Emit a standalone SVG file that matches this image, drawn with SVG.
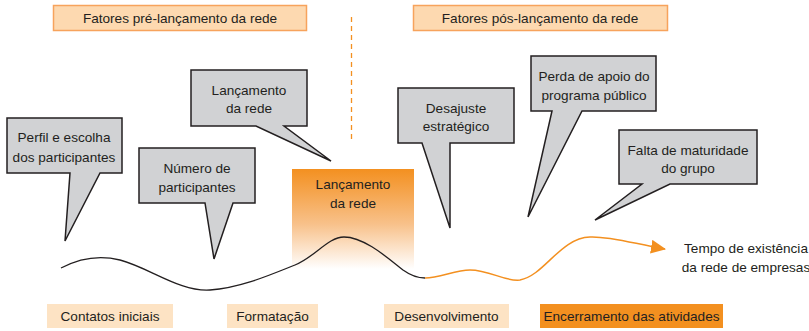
<svg xmlns="http://www.w3.org/2000/svg" width="809" height="331" viewBox="0 0 809 331">
<defs>
<linearGradient id="fade" x1="0" y1="0" x2="0" y2="1">
<stop offset="0" stop-color="#f39020"/>
<stop offset="0.55" stop-color="#f8c18a"/>
<stop offset="1" stop-color="#ffffff"/>
</linearGradient>
<marker id="arr" markerWidth="16" markerHeight="14" refX="14" refY="7" orient="auto" markerUnits="userSpaceOnUse">
<path d="M0,0 L15,7 L0,14 Z" fill="#f39020"/>
</marker>
<style>
text{font-family:"Liberation Sans",Arial,sans-serif;font-size:13.6px;fill:#231f20;text-anchor:middle}
.hdr{fill:#fdd9b0;stroke:#f7a35c;stroke-width:1.5}
.callout{fill:#d1d2d4;stroke:#231f20;stroke-width:1.5;stroke-linejoin:miter}
.phase{fill:#fde3c4}
.phase-end{fill:#f39020}
</style>
</defs>
<rect width="809" height="331" fill="#ffffff"/>

<g id="hdr-pre">
<rect class="hdr" x="53.5" y="5.5" width="253" height="25"/>
<text x="180" y="23">Fatores pré-lançamento da rede</text>
</g>
<g id="hdr-pos">
<rect class="hdr" x="413.5" y="5.5" width="254" height="25"/>
<text x="540" y="23">Fatores pós-lançamento da rede</text>
</g>

<g id="launch-highlight">
<rect x="292" y="169" width="122" height="100" fill="url(#fade)"/>
<text x="353" y="189">Lançamento</text>
<text x="353" y="208">da rede</text>
</g>

<g id="connectors">
<line x1="351.5" y1="17" x2="351.5" y2="143" stroke="#f39020" stroke-width="1.3" stroke-dasharray="5,4"/>
<path d="M61,268 C80,258 100,255 120,260 C150,268 180,292 210,290 C240,288 270,275 295,265 C315,257 328,237 344,237 C365,237 390,260 403,270 C410,275 418,278 425,278" fill="none" stroke="#231f20" stroke-width="1.3"/>
<path d="M425,278 C440,278 455,270 470,270 C490,270 505,282 520,280 C545,275 560,238 590,237 C610,236 635,244 665,249" fill="none" stroke="#f39020" stroke-width="1.5" marker-end="url(#arr)"/>
</g>

<g id="c-perfil">
<path class="callout" d="M7,118 H122 V173 H100 L65,241 L70,173 H7 Z"/>
<text x="64" y="142">Perfil e escolha</text>
<text x="64" y="162">dos participantes</text>
</g>
<g id="c-numero">
<path class="callout" d="M139,148 H255 V203 H233 L214,259 L205,203 H139 Z"/>
<text x="197" y="173">Número de</text>
<text x="197" y="192">participantes</text>
</g>
<g id="c-lancamento">
<path class="callout" d="M191,70 H307 V126 H284 L331,161 L256,126 H191 Z"/>
<text x="249" y="95">Lançamento</text>
<text x="249" y="113">da rede</text>
</g>
<g id="c-desajuste">
<path class="callout" d="M398,88 H514 V143 H450 V228 L422,143 H398 Z"/>
<text x="456" y="113">Desajuste</text>
<text x="456" y="131">estratégico</text>
</g>
<g id="c-perda">
<path class="callout" d="M531,56 H656 V111 H582 L528,217 L552,111 H531 Z"/>
<text x="594" y="81">Perda de apoio do</text>
<text x="594" y="100">programa público</text>
</g>
<g id="c-falta">
<path class="callout" d="M619,130 H757 V184 H670 L595,220 L642,184 H619 Z"/>
<text x="688" y="155">Falta de maturidade</text>
<text x="688" y="173">do grupo</text>
</g>

<g id="axis-label">
<text x="746" y="253">Tempo de existência</text>
<text x="746" y="272">da rede de empresas</text>
</g>

<g id="p-contatos">
<rect class="phase" x="47" y="304" width="126" height="24"/>
<text x="110" y="321">Contatos iniciais</text>
</g>
<g id="p-formatacao">
<rect class="phase" x="227" y="304" width="91" height="24"/>
<text x="272.5" y="321">Formatação</text>
</g>
<g id="p-desenv">
<rect class="phase" x="384" y="304" width="125" height="24"/>
<text x="446.5" y="321">Desenvolvimento</text>
</g>
<g id="p-encerramento">
<rect class="phase-end" x="540" y="304" width="183" height="24"/>
<text x="631.5" y="321">Encerramento das atividades</text>
</g>
</svg>
